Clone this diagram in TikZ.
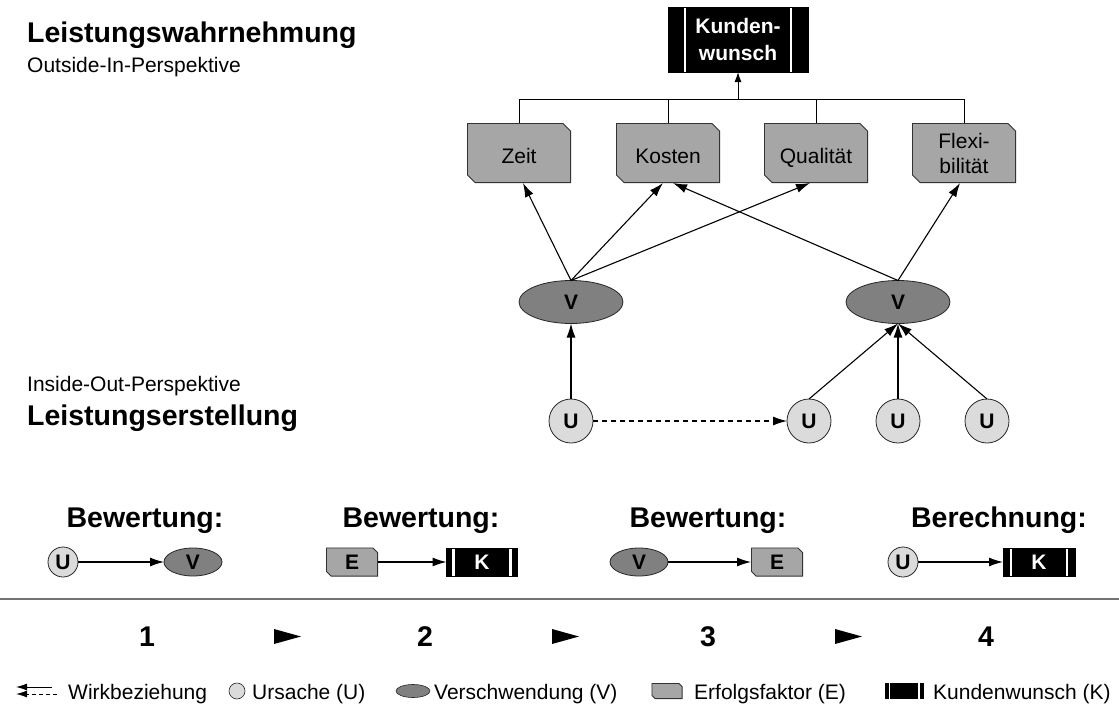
\documentclass[tikz,border=0pt]{standalone}
\usepackage{fontspec}
\setmainfont{Liberation Sans}
\usetikzlibrary{arrows.meta,shapes.geometric}

\definecolor{ecol}{gray}{0.65}
\definecolor{vcol}{gray}{0.5}
\definecolor{ucol}{gray}{0.86}
\definecolor{rulecol}{gray}{0.45}

\begin{document}
\begin{tikzpicture}[x=1pt,y=-1pt,
  txt/.style={font=\fontsize{21}{25}\selectfont},
  head/.style={font=\fontsize{28.5}{30}\selectfont\bfseries},
  lbl/.style={font=\fontsize{21}{25}\selectfont\bfseries},
  oneline/.style={text height=20pt, text depth=0pt},
  % success factor: box with cut top-right and bottom-left corners
  efactor/.style={rectangle, inner sep=0pt, outer sep=0pt,
    path picture={\filldraw[fill=ecol, draw=black!80, line width=0.9pt]
      ([shift={(0.45pt,-0.45pt)}]path picture bounding box.north west)
      -- ([shift={(-#1,-0.45pt)}]path picture bounding box.north east)
      -- ([shift={(-0.45pt,-#1)}]path picture bounding box.north east)
      -- ([shift={(-0.45pt,0.45pt)}]path picture bounding box.south east)
      -- ([shift={(#1,0.45pt)}]path picture bounding box.south west)
      -- ([shift={(0.45pt,#1)}]path picture bounding box.south west) -- cycle;}},
  efactor/.default=8pt,
  verschw/.style={ellipse, fill=vcol, draw=black!85, line width=0.8pt, inner sep=0pt, outer sep=0pt},
  ursache/.style={circle, fill=ucol, draw=black!85, line width=0.8pt, inner sep=0pt, outer sep=0pt},
  % customer wish: black bar with two white stripes
  kbox/.style={rectangle, fill=black, draw=black, inner sep=0pt, outer sep=0pt, text=white,
    path picture={
      \draw[white, line width=2.5pt]
        ([xshift=#1]path picture bounding box.north west) -- ([xshift=#1]path picture bounding box.south west)
        ([xshift=-#1]path picture bounding box.north east) -- ([xshift=-#1]path picture bounding box.south east);}},
  kbox/.default=8pt,
  wirk/.style={line width=1.1pt, -{Latex[length=14pt,width=9pt]}},
  wirkdash/.style={wirk, dash pattern=on 5pt off 4pt},
]
\useasboundingbox (0,0) rectangle (1119,709);

% perspectives
\node[head, anchor=base west, inner sep=0] (tw) at (27,43) {Leistungswahrnehmung};
\node[txt, anchor=base west, inner sep=0] (to) at (27,73) {Outside-In-Perspektive};
\node[txt, anchor=base west, inner sep=0] (ti) at (27,391) {Inside-Out-Perspektive};
\node[head, anchor=base west, inner sep=0] (te) at (27,425) {Leistungserstellung};

% customer wish and success factors
\node[kbox=17pt, minimum width=140pt, minimum height=65pt, align=center, lbl,
      font=\fontsize{21}{27}\selectfont\bfseries] (kw) at (738,39.5) {Kunden-\\wunsch};
\node[efactor, minimum width=104pt, minimum height=60pt, txt, oneline] (zeit) at (519,153) {Zeit};
\node[efactor, minimum width=104pt, minimum height=60pt, txt, oneline] (kost) at (668,153) {Kosten};
\node[efactor, minimum width=104pt, minimum height=60pt, txt, oneline] (qual) at (816,153) {Qualität};
\node[efactor, minimum width=104pt, minimum height=60pt, txt, align=center,
      font=\fontsize{21}{25}\selectfont] (flex) at (964,153) {Flexi-\\bilität};

\coordinate (bus) at (738,99);
\draw[line width=1pt] (zeit.north) |- (flex.north |- bus) -- (flex.north);
\draw[line width=1pt] (kost.north) -- (kost.north |- bus);
\draw[line width=1pt] (qual.north) -- (qual.north |- bus);
\draw[line width=1pt, -{Latex[length=10pt,width=7pt]}] (bus) -- (kw.south);

% waste and causes
\node[verschw, minimum width=104pt, minimum height=43pt, lbl] (vl) at (571,302) {V};
\node[verschw, minimum width=104pt, minimum height=43pt, lbl] (vr) at (898,302) {V};
\node[ursache, minimum size=44pt, lbl] (u1) at (571,421) {U};
\node[ursache, minimum size=44pt, lbl] (u2) at (809,421) {U};
\node[ursache, minimum size=44pt, lbl] (u3) at (898,421) {U};
\node[ursache, minimum size=44pt, lbl] (u4) at (987,421) {U};

\draw[wirk] (vl.north) -- ([xshift=4pt]zeit.south);
\draw[wirk] (vl.north) -- ([xshift=-5pt]kost.south);
\draw[wirk] (vl.north) -- ([xshift=-6pt]qual.south);
\draw[wirk] (vr.north) -- ([xshift=5pt]kost.south);
\draw[wirk] (vr.north) -- ([xshift=-4pt]flex.south);

\draw[wirk] (u1) -- (vl.south);
\draw[wirkdash] (u1) -- (u2);
\draw[wirk] (u2.north) -- (vr.south);
\draw[wirk] (u3.north) -- (vr.south);
\draw[wirk] (u4.north) -- (vr.south);

% evaluation steps
\node[head, anchor=base] (h1) at (145,527) {Bewertung:};
\node[head, anchor=base] (h2) at (421,527) {Bewertung:};
\node[head, anchor=base] (h3) at (708,527) {Bewertung:};
\node[head, anchor=base] (h4) at (999,527) {Berechnung:};

\node[ursache, minimum size=30pt, lbl] (s1u) at (63,562) {U};
\node[verschw, minimum width=58pt, minimum height=28pt, lbl] (s1v) at (193,562) {V};
\draw[wirk] (s1u) -- (s1v);

\node[efactor=5pt, minimum width=52pt, minimum height=29pt, lbl] (s2e) at (352,562) {E};
\node[kbox=7pt, minimum width=71pt, minimum height=28pt, lbl] (s2k) at (482,562) {K};
\draw[wirk] (s2e) -- (s2k);

\node[verschw, minimum width=58pt, minimum height=28pt, lbl] (s3v) at (639,562) {V};
\node[efactor=5pt, minimum width=52pt, minimum height=29pt, lbl] (s3e) at (777,562) {E};
\draw[wirk] (s3v) -- (s3e);

\node[ursache, minimum size=30pt, lbl] (s4u) at (903,562) {U};
\node[kbox=8pt, minimum width=72pt, minimum height=28pt, lbl] (s4k) at (1039,562) {K};
\draw[wirk] (s4u) -- (s4k);

\draw[rulecol, line width=1.5pt] (0,599) -- (1119,599);

\node[head, anchor=base] (n1) at (147,646) {1};
\node[head, anchor=base] (n2) at (425,646) {2};
\node[head, anchor=base] (n3) at (708,646) {3};
\node[head, anchor=base] (n4) at (986,646) {4};
\fill (274,629) -- (301,636.5) -- (274,644) -- cycle;
\fill (552,629) -- (579,636.5) -- (552,644) -- cycle;
\fill (835,629) -- (862,636.5) -- (835,644) -- cycle;

% legend
\coordinate (la) at (52,687);
\coordinate (lb) at (57,694);
\draw[line width=1pt, -{Latex[length=11pt,width=7pt]}] (la) -- ++(-36,0);
\draw[line width=1pt, dash pattern=on 4pt off 3pt, -{Latex[length=11pt,width=7pt]}] (lb) -- ++(-41,0);
\node[txt, anchor=base west, inner sep=0] (lwirk) at (68,699) {Wirkbeziehung};
\node[ursache, minimum size=16pt, line width=0.6pt] (lu) at (237,691) {};
\node[txt, anchor=base west, inner sep=0] (lut) at (252,699) {Ursache (U)};
\node[verschw, minimum width=34pt, minimum height=13pt, line width=0.6pt] (lv) at (413,691) {};
\node[txt, anchor=base west, inner sep=0] (lvt) at (434,699) {Verschwendung (V)};
\node[efactor=3.5pt, minimum width=31pt, minimum height=16pt] (le) at (667,691) {};
\node[txt, anchor=base west, inner sep=0] (let) at (694,699) {Erfolgsfaktor (E)};
\node[rectangle, fill=black, inner sep=0pt, minimum width=39pt, minimum height=16pt,
  path picture={\draw[white, line width=1.5pt]
    ([xshift=4.5pt]path picture bounding box.north west) -- ([xshift=4.5pt]path picture bounding box.south west)
    ([xshift=-5pt]path picture bounding box.north east) -- ([xshift=-5pt]path picture bounding box.south east);}] (lk) at (904.5,691) {};
\node[txt, anchor=base west, inner sep=0] (lkt) at (933,699) {Kundenwunsch (K)};
\end{tikzpicture}
\end{document}
